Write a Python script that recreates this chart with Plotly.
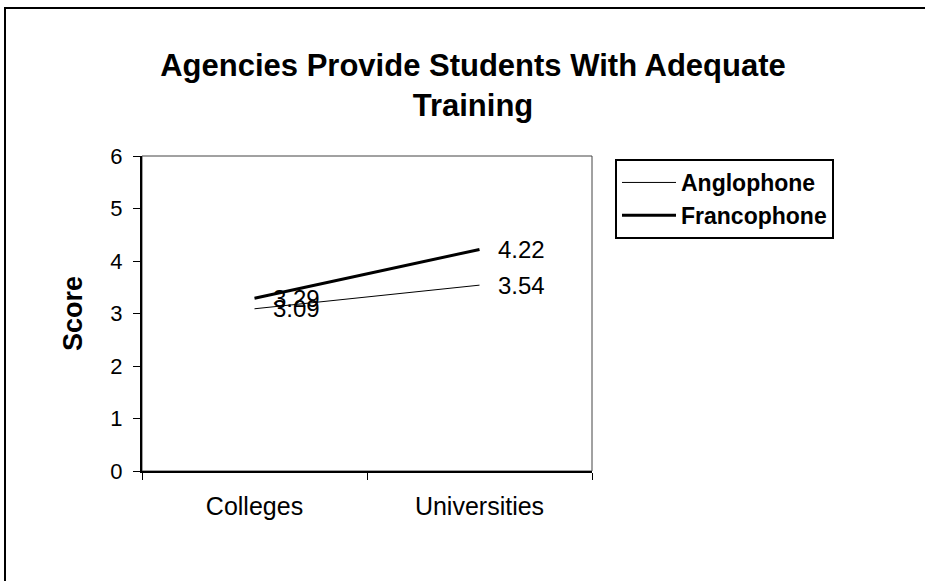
import plotly.graph_objects as go

# Data
categories = ["Colleges", "Universities"]
anglophone = [3.09, 3.54]
francophone = [3.29, 4.22]
y_ticks = [0, 1, 2, 3, 4, 5, 6]

FONT = "Liberation Sans, Arial, sans-serif"

fig = go.Figure()

fig.add_trace(go.Scatter(
    x=categories, y=anglophone,
    mode="lines",
    name="<b>Anglophone</b>",
    legendgroup="a",
    line=dict(color="black", width=1),
))
fig.add_trace(go.Scatter(
    x=categories, y=francophone,
    mode="lines",
    name="<b>Francophone</b>",
    legendgroup="f",
    line=dict(color="black", width=3),
))

# data labels, placed right of each point
labels = []
for series in (anglophone, francophone):
    for cat, val in zip(categories, series):
        labels.append(dict(
            x=cat, y=val, xref="x", yref="y",
            text=f"{val:.2f}", showarrow=False,
            xanchor="left", yanchor="middle", xshift=16,
            font=dict(family=FONT, size=24, color="black"),
        ))

fig.update_layout(
    width=925, height=581,
    paper_bgcolor="white",
    plot_bgcolor="white",
    font=dict(family=FONT, color="black", size=20),
    margin=dict(l=142, r=333, t=156, b=110),
    title=dict(
        text="<b>Agencies Provide Students With Adequate<br>Training</b>",
        x=473 / 925, xanchor="center",
        y=1 - 76 / 581, yanchor="top",
        font=dict(family=FONT, size=31, color="black"),
    ),
    xaxis=dict(
        type="category",
        range=[-0.5, 1.5],
        showgrid=False, zeroline=False,
        showline=True, linecolor="black", linewidth=2,
        ticks="outside", tickson="boundaries", ticklen=7, tickcolor="black",
        tickfont=dict(family=FONT, size=25, color="black"),
        ticklabelstandoff=12,
    ),
    yaxis=dict(
        range=[0, 6],
        tickvals=y_ticks,
        showgrid=False, zeroline=False,
        showline=True, linecolor="black", linewidth=2,
        ticks="outside", ticklen=7, tickcolor="black",
        tickfont=dict(family=FONT, size=22, color="black"),
        ticklabelstandoff=6,
        title=dict(text="<b>Score</b>", font=dict(family=FONT, size=27, color="black"), standoff=20),
    ),
    showlegend=True,
    legend=dict(
        x=(615 - 142) / 450, y=1 + (156 - 159) / 315,
        xanchor="left", yanchor="top",
        bgcolor="white",
        bordercolor="black", borderwidth=2,
        font=dict(family=FONT, size=23, color="black"),
        itemwidth=54,
        tracegroupgap=5,
        traceorder="normal",
    ),
    annotations=labels,
    shapes=[
        # plot-area frame (top and right)
        dict(type="rect", xref="paper", yref="paper", x0=0, x1=1, y0=0, y1=1,
             line=dict(color="#444444", width=1), layer="below"),
        # outer chart frame
        dict(type="rect", xref="paper", yref="paper",
             x0=(5 - 142) / 450, x1=(935 - 142) / 450,
             y0=(471 - 600) / 315, y1=1 + (156 - 8) / 315,
             line=dict(color="black", width=2)),
    ],
)

fig.write_html("out.html", config={"displayModeBar": False},
               post_script="document.body.style.margin='0';")
